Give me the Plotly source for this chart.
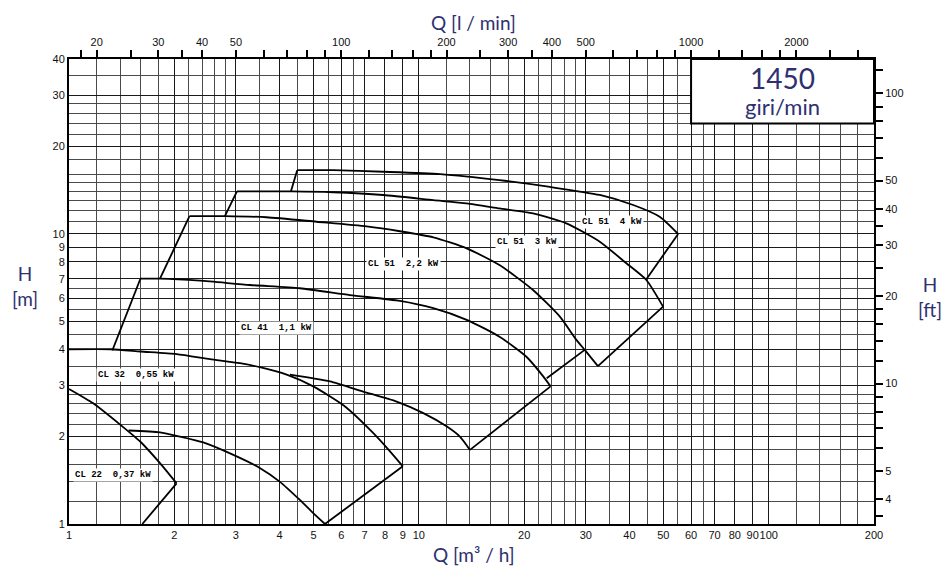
import numpy as np
import plotly.graph_objects as go

# ---------------- unit conversions ----------------
LMIN_PER_M3H = 1000.0 / 60.0
FT_PER_M = 3.28084

# ---------------- axis ticks / grid ----------------
q_major = [1, 2, 3, 4, 5, 6, 7, 8, 9, 10, 20, 30, 40, 50, 60, 70, 80, 90, 100, 200]
q_minor = [1.2, 1.4, 1.6, 1.8, 2.2, 2.4, 2.6, 2.8, 3.5, 4.5, 5.5, 6.5,
           12, 14, 16, 18, 22, 24, 26, 28, 35, 45, 55, 65, 120, 140, 160, 180]
h_major = [1, 2, 3, 4, 5, 6, 7, 8, 9, 10, 20, 30, 40]
h_minor = [1.2, 1.4, 1.6, 1.8, 2.2, 2.4, 2.6, 2.8, 3.5, 4.5, 5.5, 6.5,
           11, 12, 13, 14, 15, 16, 18, 22, 24, 26, 28, 35]
lmin_ticks = [18, 20, 25, 30, 35, 40, 50, 60, 70, 80, 90, 100, 120, 140, 160, 180,
              200, 250, 300, 350, 400, 500, 600, 700, 800, 900, 1000, 1200, 1400,
              1600, 1800, 2000, 2500, 3000]
lmin_labels = [20, 30, 40, 50, 100, 200, 300, 400, 500, 1000, 2000]
ft_ticks = [3.5, 4, 5, 6, 7, 8, 9, 10, 12, 14, 16, 18, 20, 25, 30, 35, 40, 50,
            60, 70, 80, 90, 100, 120]
ft_labels = [4, 5, 10, 20, 30, 40, 50, 100]

Q_RANGE = [1, 200]
H_RANGE = [1, 40]

# ---------------- pump curves (Q m3/h, H m) ----------------
cl22_q = [1.0, 1.17, 1.40, 1.60, 1.82, 2.03]
cl22_h = [2.92, 2.61, 2.20, 1.92, 1.62, 1.38]

cl32_q = [1.0, 1.32, 1.6, 2.03, 2.53, 3.08, 3.51, 4.19, 4.99, 6.1, 7.4, 8.27, 9.0]
cl32_h = [4.0, 4.0, 3.93, 3.85, 3.70, 3.58, 3.47, 3.27, 2.98, 2.56, 2.06, 1.78, 1.58]

cl32min_q = [1.48, 1.82, 2.08, 2.42, 2.95, 3.51, 4.0, 4.57, 4.99, 5.39]
cl32min_h = [2.10, 2.07, 2.00, 1.91, 1.73, 1.56, 1.40, 1.21, 1.09, 1.0]

cl41min_q = [4.28, 5.57, 6.93, 8.64, 10.3, 12.0, 13.1, 14.0]
cl41min_h = [3.27, 3.10, 2.86, 2.64, 2.41, 2.17, 2.00, 1.80]

cl41_q = [1.6, 1.82, 2.37, 3.29, 4.57, 6.35, 8.83, 11.0, 13.7, 17.0, 20.3, 22.7, 23.8]
cl41_h = [7.0, 7.0, 6.89, 6.66, 6.49, 6.15, 5.87, 5.54, 5.05, 4.42, 3.77, 3.22, 2.98]

cl51a_q = [2.21, 2.79, 3.67, 5.10, 7.09, 8.83, 11.0, 13.7, 17.0, 21.2, 25.3, 28.2, 29.8, 32.5]
cl51a_h = [11.5, 11.5, 11.4, 11.0, 10.6, 10.2, 9.72, 8.91, 7.80, 6.40, 5.18, 4.31, 3.98, 3.50]

cl51b_q = [3.02, 4.33, 5.69, 7.91, 11.0, 13.7, 17.0, 21.2, 26.4, 32.9, 39.2, 44.7, 49.9]
cl51b_h = [14.0, 14.0, 13.9, 13.6, 13.06, 12.72, 12.23, 11.75, 10.86, 9.39, 7.91, 6.93, 5.61]

cl51c_q = [4.49, 5.69, 7.91, 11.5, 17.0, 23.7, 32.9, 41.0, 48.8, 55.1]
cl51c_h = [16.56, 16.56, 16.35, 16.05, 15.3, 14.5, 13.6, 12.56, 11.44, 9.98]

# straight limit lines: (q0, h0) -> (q1, h1)
link_q0 = [2.03, 5.39, 1.33, 14.0, 1.82, 23.2, 2.79, 32.5, 4.31, 44.7]
link_h0 = [1.38, 1.0, 3.96, 1.80, 7.0, 3.18, 11.5, 3.50, 14.0, 6.97]
link_q1 = [1.62, 9.0, 1.6, 23.8, 2.21, 29.8, 3.02, 49.9, 4.49, 55.1]
link_h1 = [1.0, 1.58, 7.0, 2.98, 11.5, 3.98, 14.0, 5.61, 16.56, 9.98]

# ---------------- labels ----------------
label_text = ["CL 22  0,37 kW", "CL 32  0,55 kW", "CL 41  1,1 kW",
              "CL 51  2,2 kW", "CL 51  3 kW", "CL 51  4 kW"]
label_q = [1.34, 1.55, 3.92, 9.04, 20.4, 35.6]
label_h = [1.48, 3.25, 4.73, 7.87, 9.34, 10.95]

speed_text = ["1450", "giri/min"]
box_q = [60, 200]
box_h = [24, 40]

NAVY = "#2e3070"
TICKFONT = dict(family="Liberation Sans, Arial, sans-serif", size=11, color="#111")

fig = go.Figure()

curves = [(cl22_q, cl22_h), (cl32_q, cl32_h), (cl32min_q, cl32min_h),
          (cl41min_q, cl41min_h), (cl41_q, cl41_h), (cl51a_q, cl51a_h),
          (cl51b_q, cl51b_h), (cl51c_q, cl51c_h)]
for cq, ch in curves:
    fig.add_trace(go.Scatter(x=cq, y=ch, mode="lines",
                             line=dict(color="black", width=1.8, shape="spline", smoothing=0.6),
                             hoverinfo="skip", showlegend=False))

lx, ly = [], []
for a, b, c, d in zip(link_q0, link_h0, link_q1, link_h1):
    lx += [a, c, None]
    ly += [b, d, None]
fig.add_trace(go.Scatter(x=lx, y=ly, mode="lines",
                         line=dict(color="black", width=1.8),
                         hoverinfo="skip", showlegend=False))

# invisible trace to activate secondary axes
fig.add_trace(go.Scatter(x=[Q_RANGE[0] * LMIN_PER_M3H, Q_RANGE[1] * LMIN_PER_M3H],
                         y=[H_RANGE[0] * FT_PER_M, H_RANGE[1] * FT_PER_M],
                         xaxis="x2", yaxis="y2", mode="markers",
                         marker=dict(opacity=0), hoverinfo="skip", showlegend=False))

annotations = []
for t, q, h in zip(label_text, label_q, label_h):
    annotations.append(dict(x=np.log10(q), y=np.log10(h), xref="x", yref="y",
                            text="<b>" + t + "</b>", showarrow=False,
                            bgcolor="white", borderpad=1,
                            xanchor="center", yanchor="middle",
                            font=dict(family="Liberation Mono, monospace", size=9, color="black")))

bx0, bx1 = np.log10(box_q[0]), np.log10(box_q[1])
by0, by1 = np.log10(box_h[0]), np.log10(box_h[1])
annotations.append(dict(x=(bx0 + bx1) / 2, y=by0 + 0.70 * (by1 - by0), xref="x", yref="y",
                        text=speed_text[0], showarrow=False,
                        xanchor="center", yanchor="middle",
                        font=dict(family="Lato, sans-serif", size=28, color=NAVY)))
annotations.append(dict(x=(bx0 + bx1) / 2, y=by0 + 0.27 * (by1 - by0), xref="x", yref="y",
                        text=speed_text[1], showarrow=False,
                        xanchor="center", yanchor="middle",
                        font=dict(family="Lato, sans-serif", size=22, color=NAVY)))

TITLEFONT = dict(family="Lato, sans-serif", size=19, color=NAVY)
annotations += [
    dict(x=0.503, y=1.079, xref="paper", yref="paper", text="Q [l / min]",
         showarrow=False, font=TITLEFONT, xanchor="center", yanchor="middle"),
    dict(x=0.503, y=-0.066, xref="paper", yref="paper", text="Q [m³ / h]",
         showarrow=False, font=TITLEFONT, xanchor="center", yanchor="middle"),
    dict(x=-0.055, y=0.512, xref="paper", yref="paper", text="H<br>[m]",
         showarrow=False, font=TITLEFONT, xanchor="center", yanchor="middle"),
    dict(x=1.069, y=0.488, xref="paper", yref="paper", text="H<br>[ft]",
         showarrow=False, font=TITLEFONT, xanchor="center", yanchor="middle"),
]

common = dict(type="log", zeroline=False, tickfont=TICKFONT, fixedrange=True,
              automargin=False, tickangle=0)

# page body has an 8px default margin: size the figure to fit the 949x575 window
fig.update_layout(
    width=941, height=567,
    margin=dict(l=61, r=75, t=51, b=51, autoexpand=False),
    plot_bgcolor="white", paper_bgcolor="white",
    showlegend=False,
    xaxis=dict(range=[np.log10(Q_RANGE[0]), np.log10(Q_RANGE[1])],
               tickmode="array", tickvals=q_major, ticktext=[str(v) for v in q_major],
               ticks="", showgrid=True, gridcolor="#1a1a1a", gridwidth=1,
               minor=dict(tickmode="array", tickvals=q_minor, showgrid=True,
                          gridcolor="#4a4a4a", gridwidth=1, ticks=""),
               showline=True, linecolor="black", linewidth=2, mirror=True, **common),
    yaxis=dict(range=[np.log10(H_RANGE[0]), np.log10(H_RANGE[1])],
               tickmode="array", tickvals=h_major, ticktext=[str(v) for v in h_major],
               ticks="", showgrid=True, gridcolor="#1a1a1a", gridwidth=1,
               minor=dict(tickmode="array", tickvals=h_minor, showgrid=True,
                          gridcolor="#4a4a4a", gridwidth=1, ticks=""),
               showline=True, linecolor="black", linewidth=2, mirror=True, **common),
    xaxis2=dict(overlaying="x", side="top", anchor="y",
                range=[np.log10(Q_RANGE[0] * LMIN_PER_M3H), np.log10(Q_RANGE[1] * LMIN_PER_M3H)],
                tickmode="array", tickvals=lmin_ticks,
                ticktext=[str(v) if v in lmin_labels else "" for v in lmin_ticks],
                ticks="outside", ticklen=8, tickwidth=1.5, tickcolor="black",
                showgrid=False, showline=False, **common),
    yaxis2=dict(overlaying="y", side="right", anchor="x",
                range=[np.log10(H_RANGE[0] * FT_PER_M), np.log10(H_RANGE[1] * FT_PER_M)],
                tickmode="array", tickvals=ft_ticks,
                ticktext=[str(v) if v in ft_labels else "" for v in ft_ticks],
                ticks="outside", ticklen=8, tickwidth=1.5, tickcolor="black",
                showgrid=False, showline=False, **common),
    shapes=[dict(type="rect", xref="x", yref="y",
                 x0=box_q[0], x1=box_q[1], y0=box_h[0], y1=box_h[1],
                 fillcolor="white", line=dict(color="black", width=2), layer="above")],
    annotations=annotations,
)

fig.write_html("out.html")
